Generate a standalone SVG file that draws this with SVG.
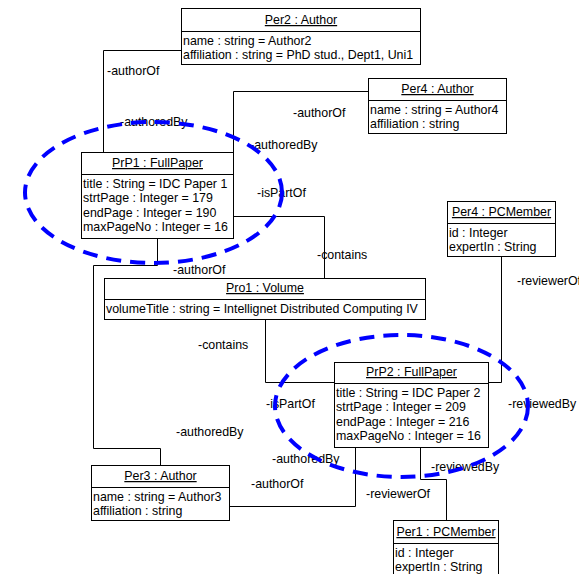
<svg xmlns="http://www.w3.org/2000/svg" width="579" height="574" viewBox="0 0 579 574">
  <style>
    text { font-family: "Liberation Sans", Arial, sans-serif; font-size: 12.4px; fill: #000; }
    .box { fill: #fff; stroke: #000; stroke-width: 1; }
    .sep { stroke: #000; stroke-width: 1; }
    .title { text-anchor: middle; text-decoration: underline; }
    .conn { fill: none; stroke: #000; stroke-width: 1; }
    .group { fill: none; stroke: #0000ff; stroke-width: 4; stroke-dasharray: 15 9; }
  </style>
  <rect width="579" height="574" fill="#fff"/>

  <!-- connectors between objects -->
  <g id="connectors">
    <polyline class="conn" points="181,50.5 103.5,50.5 103.5,152"/>
    <polyline class="conn" points="368,91.5 233.5,91.5 233.5,152"/>
    <polyline class="conn" points="233,216.5 324.5,216.5 324.5,278"/>
    <polyline class="conn" points="157.5,238 157.5,265.5 93.5,265.5 93.5,448.5 160.5,448.5 160.5,465"/>
    <polyline class="conn" points="265.5,319 265.5,382.5 334,382.5"/>
    <polyline class="conn" points="501.5,256 501.5,382.5 488,382.5"/>
    <polyline class="conn" points="229,506.5 355.5,506.5 355.5,447"/>
    <polyline class="conn" points="420.5,447 420.5,479.5 446.5,479.5 446.5,520"/>

    <!-- role names -->
    <text x="107" y="75">-authorOf</text>
    <text x="120" y="126">-authoredBy</text>
    <text x="293" y="117">-authorOf</text>
    <text x="250" y="149">-authoredBy</text>
    <text x="257" y="197">-isPartOf</text>
    <text x="317" y="259">-contains</text>
    <text x="173" y="274">-authorOf</text>
    <text x="517" y="285">-reviewerOf</text>
    <text x="198" y="349">-contains</text>
    <text x="266" y="408">-isPartOf</text>
    <text x="176" y="436">-authoredBy</text>
    <text x="272" y="463">-authoredBy</text>
    <text x="251" y="488">-authorOf</text>
    <text x="508" y="408">-reviewedBy</text>
    <text x="431" y="471">-reviewedBy</text>
    <text x="366" y="498">-reviewerOf</text>
  </g>

  <g id="Per2">
    <rect class="box" x="181.5" y="8.5" width="239" height="56"/>
    <line class="sep" x1="181.5" y1="31.5" x2="420.5" y2="31.5"/>
    <text class="title" x="301" y="24">Per2 : Author</text>
    <text x="183" y="45">name : string = Author2</text>
    <text x="183" y="59">affiliation : string = PhD stud., Dept1, Uni1</text>
  </g>

  <g id="Per4-Author">
    <rect class="box" x="368.5" y="78.5" width="138" height="55"/>
    <line class="sep" x1="368.5" y1="100.5" x2="506.5" y2="100.5"/>
    <text class="title" x="437.5" y="93">Per4 : Author</text>
    <text x="370" y="114">name : string = Author4</text>
    <text x="370" y="128">affiliation : string</text>
  </g>

  <g id="PrP1">
    <rect class="box" x="81.5" y="152.5" width="152" height="86"/>
    <line class="sep" x1="81.5" y1="174.5" x2="233.5" y2="174.5"/>
    <text class="title" x="157.5" y="167">PrP1 : FullPaper</text>
    <text x="83" y="188">title : String = IDC Paper 1</text>
    <text x="83" y="202.3">strtPage : Integer = 179</text>
    <text x="83" y="216.6">endPage : Integer = 190</text>
    <text x="83" y="231">maxPageNo : Integer = 16</text>
  </g>

  <g id="Pro1">
    <rect class="box" x="104.5" y="278.5" width="321" height="41"/>
    <line class="sep" x1="104.5" y1="299.5" x2="425.5" y2="299.5"/>
    <text class="title" x="265" y="292">Pro1 : Volume</text>
    <text x="106" y="313">volumeTitle : string = Intellignet Distributed Computing IV</text>
  </g>

  <g id="Per4-PCMember">
    <rect class="box" x="447.5" y="201.5" width="108" height="55"/>
    <line class="sep" x1="447.5" y1="223.5" x2="555.5" y2="223.5"/>
    <text class="title" x="501.5" y="216">Per4 : PCMember</text>
    <text x="449" y="237">id : Integer</text>
    <text x="449" y="251">expertIn : String</text>
  </g>

  <g id="PrP2">
    <rect class="box" x="334.5" y="362.5" width="154" height="85"/>
    <line class="sep" x1="334.5" y1="383.5" x2="488.5" y2="383.5"/>
    <text class="title" x="411.5" y="376">PrP2 : FullPaper</text>
    <text x="336" y="397">title : String = IDC Paper 2</text>
    <text x="336" y="411.3">strtPage : Integer = 209</text>
    <text x="336" y="425.6">endPage : Integer = 216</text>
    <text x="336" y="440">maxPageNo : Integer = 16</text>
  </g>

  <g id="Per3">
    <rect class="box" x="91.5" y="465.5" width="138" height="55"/>
    <line class="sep" x1="91.5" y1="487.5" x2="229.5" y2="487.5"/>
    <text class="title" x="160.5" y="480">Per3 : Author</text>
    <text x="93" y="501">name : string = Author3</text>
    <text x="93" y="515">affiliation : string</text>
  </g>

  <g id="Per1">
    <rect class="box" x="393.5" y="520.5" width="105" height="60"/>
    <line class="sep" x1="393.5" y1="543.5" x2="498.5" y2="543.5"/>
    <text class="title" x="446" y="536">Per1 : PCMember</text>
    <text x="395" y="557">id : Integer</text>
    <text x="395" y="571">expertIn : String</text>
  </g>

  <!-- dashed groupings around the two papers -->
  <g id="paper-groups">
    <ellipse class="group" cx="153.5" cy="192.5" rx="128.5" ry="70.5"/>
    <ellipse class="group" cx="401.5" cy="406" rx="126.5" ry="71"/>
  </g>
</svg>
